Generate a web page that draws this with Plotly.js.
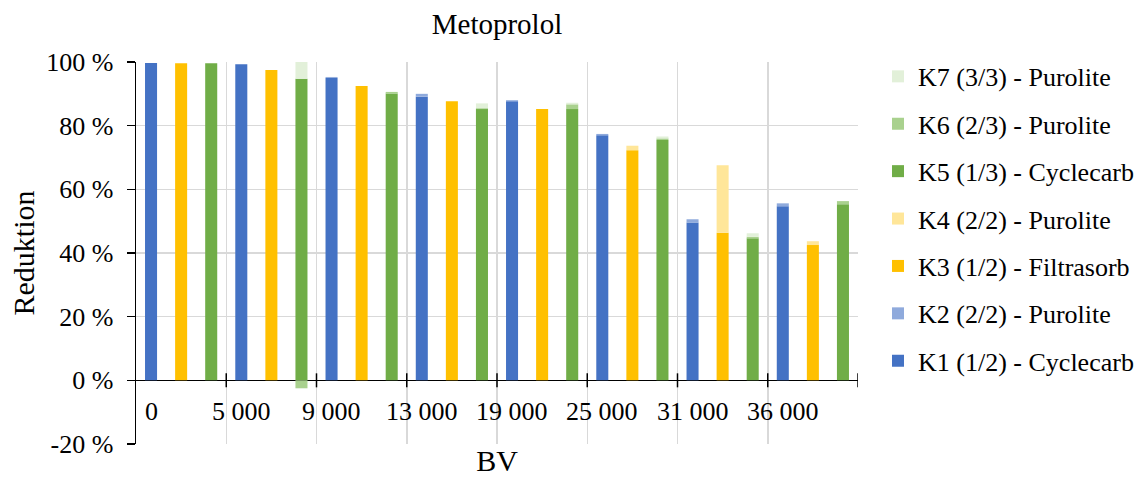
<!DOCTYPE html>
<html>
<head>
<meta charset="utf-8">
<script src="https://cdn.plot.ly/plotly-3.0.1.min.js"></script>
<style>html,body{margin:0;padding:0;background:#fff;}#chart{width:1144px;height:477px;}</style>
</head>
<body>
<div id="chart"></div>
<script>
// Tick labels (BV) for the 8 groups
const bvLabels = ['0', '5 000', '9 000', '13 000', '19 000', '25 000', '31 000', '36 000'];

// Series values (% reduction) per BV group
const K1 = [99.7, 99.3, 95.0, 89.1, 87.7, 77.0, 49.6, 54.7];
const K2 = [0, 0, 0.3, 0.9, 0.3, 0.4, 1.0, 0.9];
const K3 = [99.6, 97.5, 92.5, 87.7, 85.2, 72.3, 46.4, 42.5];
const K4 = [0, 0, 0, 0, 0, 1.4, 21.2, 1.2];
const K5 = [99.6, 94.7, 90.1, 85.2, 85.2, 75.5, 44.6, 55.3];
const K6 = [0, -2.5, 0.5, 0.3, 1.5, 0.5, 0.5, 1.0];
const K7 = [0, 5.3, 0, 1.5, 0.5, 0.6, 1.1, 0];

const seriesNames = ['K1 (1/2) - Cyclecarb', 'K2 (2/2) - Purolite', 'K3 (1/2) - Filtrasorb',
  'K4 (2/2) - Purolite', 'K5 (1/3) - Cyclecarb', 'K6 (2/3) - Purolite', 'K7 (3/3) - Purolite'];
const seriesValues = [K1, K2, K3, K4, K5, K6, K7];
const seriesSlot = [0, 0, 1, 1, 2, 2, 2];
const seriesColors = ['#4472c4', '#8faadc', '#ffc000', '#ffe699', '#70ad47', '#a9d18e', '#e2f0d9'];

const nGroups = bvLabels.length;
const perGroup = 3;
const FONT = '"Liberation Serif", "Times New Roman", serif';

const traces = seriesValues.map((vals, i) => ({
  type: 'bar',
  name: seriesNames[i],
  legendgroup: 'g' + i,
  legendrank: 100 - i,
  x: vals.map((v, g) => g * perGroup + seriesSlot[i]),
  y: vals,
  width: 0.4,
  marker: {color: seriesColors[i], line: {width: 0}},
  hoverinfo: 'name+y'
}));

const boundaries = [];
for (let g = 1; g <= nGroups; g++) boundaries.push(g * perGroup - 0.5);

const shapes = boundaries.map(b => ({
  type: 'line', xref: 'x', yref: 'y', x0: b, x1: b, y0: -2.2, y1: 2.2,
  line: {color: '#000', width: 1.5}
}));

const annotations = bvLabels.map((t, g) => ({
  x: g * perGroup, y: -9.9, xref: 'x', yref: 'y', text: t, showarrow: false,
  xanchor: 'center', yanchor: 'middle', font: {family: FONT, size: 26, color: '#000'}
}));

const layout = {
  width: 1144, height: 477,
  margin: {l: 136, r: 286, t: 62, b: 33},
  paper_bgcolor: '#fff', plot_bgcolor: '#fff',
  barmode: 'relative',
  font: {family: FONT, color: '#000'},
  title: {text: 'Metoprolol', x: 0.5, xref: 'paper', xanchor: 'center', y: 0.95, yanchor: 'middle', font: {family: FONT, size: 29, color: '#000'}},
  xaxis: {
    range: [-0.5, nGroups * perGroup - 0.5],
    tickmode: 'array', tickvals: boundaries, showticklabels: false, ticks: '',
    showgrid: true, gridcolor: '#d9d9d9', gridwidth: 1.5,
    zeroline: false, showline: false, fixedrange: true, automargin: false,
    title: {text: 'BV', font: {family: FONT, size: 30, color: '#000'}, standoff: 6}
  },
  yaxis: {
    range: [-20, 100], tickmode: 'array', tickvals: [-20, 0, 20, 40, 60, 80, 100],
    ticktext: ['-20 %', '0 %', '20 %', '40 %', '60 %', '80 %', '100 %'],
    ticks: 'outside', ticklen: 8, tickwidth: 1.5, tickcolor: '#000',
    ticklabelstandoff: 8,
    tickfont: {family: FONT, size: 26, color: '#000'},
    showline: true, linecolor: '#000', linewidth: 1.5,
    showgrid: true, gridcolor: '#d9d9d9', gridwidth: 1.5,
    zeroline: true, zerolinecolor: '#000', zerolinewidth: 1.5,
    fixedrange: true, automargin: false,
    title: {text: 'Reduktion', font: {family: FONT, size: 30, color: '#000'}, standoff: 2}
  },
  legend: {
    xref: 'container', yref: 'container',
    x: 0.7675, xanchor: 'left', y: 0.889, yanchor: 'top',
    maxheight: 420,
    traceorder: 'grouped', tracegroupgap: 10.6,
    font: {family: FONT, size: 26, color: '#000'},
    bgcolor: 'rgba(0,0,0,0)', borderwidth: 0
  },
  shapes: shapes,
  annotations: annotations,
  showlegend: true
};

Plotly.newPlot('chart', traces, layout, {displayModeBar: false, staticPlot: true});
</script>
</body>
</html>
